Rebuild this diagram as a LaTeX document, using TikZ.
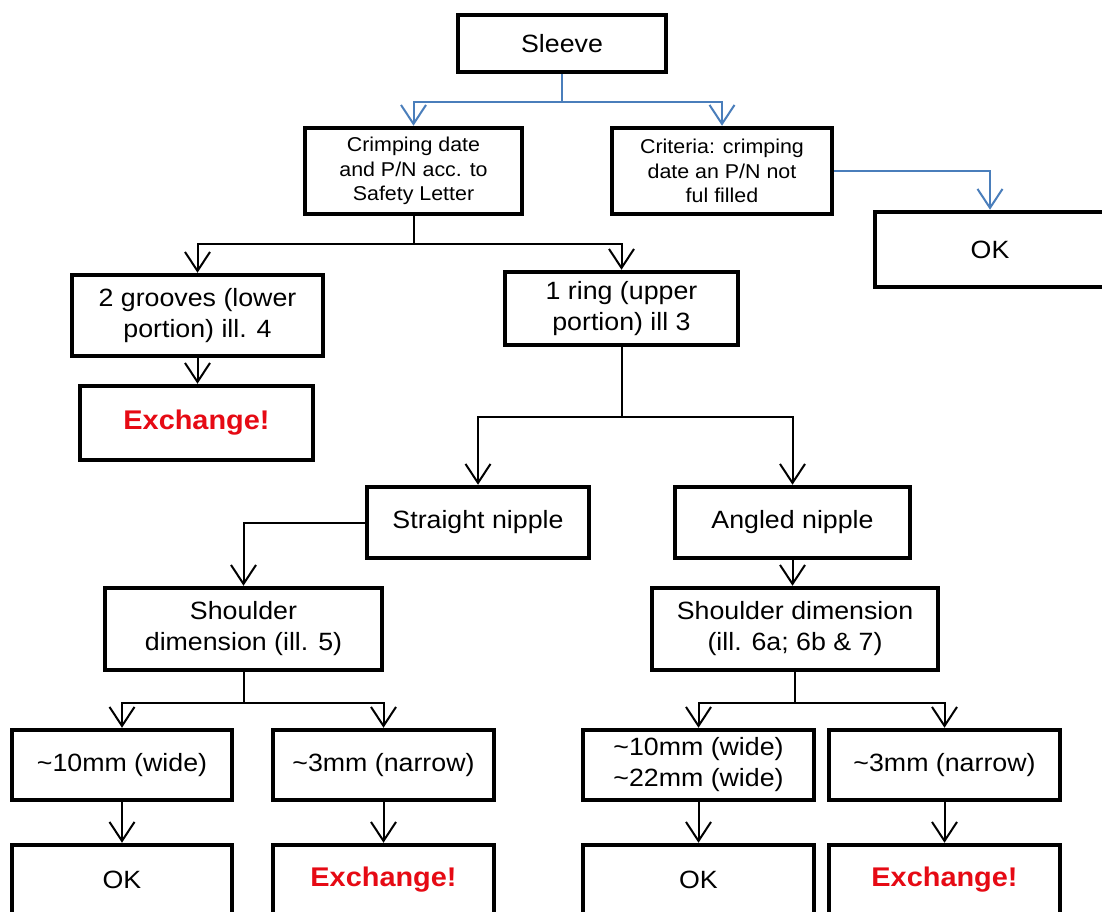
\documentclass[tikz,border=0pt]{standalone}
\usepackage{fontspec}
\setmainfont[FakeStretch=1.07]{Liberation Sans}
\usetikzlibrary{arrows.meta}
\definecolor{conblue}{RGB}{74,126,187}
\definecolor{exred}{RGB}{230,10,20}
\tikzset{
  box/.style={draw=black, line width=4.5pt, rectangle, align=center, inner sep=2pt,
              font=\fontsize{25}{31}\selectfont},
  smallbox/.style={box, font=\fontsize{20}{24.5}\selectfont},
  conn/.style={draw=black, line width=2pt, -{Straight Barb[length=19pt,width=25pt,line width=2pt]}},
  bconn/.style={conn, draw=conblue, color=conblue},
  exch/.style={text=exred, font=\fontsize{27}{31}\selectfont\bfseries}
}
\begin{document}
\begin{tikzpicture}[x=1pt,y=-1pt]
\useasboundingbox (0,0) rectangle (1102,911);
\clip (0,0) rectangle (1102,911);
\fill[white] (0,0) rectangle (1102,911);
% nodes
\node[box, minimum width=208pt, minimum height=57pt] (sleeve) at (562,43.5) {Sleeve};
\node[smallbox, minimum width=217pt, minimum height=86pt] (crimp) at (413.5,171) {Crimping date\\and P/N acc. to\\Safety Letter};
\node[smallbox, minimum width=220pt, minimum height=86pt] (crit) at (722,171) {Criteria: crimping\\date an P/N not\\ful filled};
\node[box, minimum width=230pt, minimum height=75pt] (ok1) at (990,249.5) {OK};
\node[box, minimum width=251pt, minimum height=81pt] (grooves) at (197.5,315.5) {2 grooves (lower\\portion) ill. 4};
\node[box, exch, minimum width=233pt, minimum height=74pt] (ex1) at (196.5,423) {Exchange!};
\node[box, minimum width=233pt, minimum height=73pt] (ring) at (621.5,308.5) {1 ring (upper\\portion) ill 3};
\node[box, minimum width=222pt, minimum height=71pt] (straight) at (478,522.5) {Straight nipple};
\node[box, minimum width=235pt, minimum height=71pt] (angled) at (792.5,522.5) {Angled nipple};
\node[box, minimum width=277pt, minimum height=82pt] (sh1) at (243.5,629) {Shoulder\\dimension (ill. 5)};
\node[box, minimum width=286pt, minimum height=82pt] (sh2) at (795,629) {Shoulder dimension\\(ill. 6a; 6b \& 7)};
\node[box, minimum width=220pt, minimum height=70pt] (w1) at (122,765) {\textasciitilde10mm (wide)};
\node[box, minimum width=221pt, minimum height=70pt] (n1) at (383.5,765) {\textasciitilde3mm (narrow)};
\node[box, minimum width=231pt, minimum height=70pt] (w2) at (698.5,765) {\textasciitilde10mm (wide)\\\textasciitilde22mm (wide)};
\node[box, minimum width=231pt, minimum height=70pt] (n2) at (944.5,765) {\textasciitilde3mm (narrow)};
\node[box, minimum width=220pt, minimum height=70pt] (ok2) at (122,880) {OK};
\node[box, exch, minimum width=221pt, minimum height=70pt] (ex2) at (383.5,880) {Exchange!};
\node[box, minimum width=231pt, minimum height=70pt] (ok3) at (698.5,880) {OK};
\node[box, exch, minimum width=231pt, minimum height=70pt] (ex3) at (944.5,880) {Exchange!};
% blue connectors
\draw[bconn] (sleeve.south) -- ++(0,28) -| (crimp.north);
\draw[bconn] (sleeve.south) -- ++(0,28) -| (crit.north);
\draw[bconn] (crit.east) -| (ok1.north);
% black connectors
\draw[conn] (crimp.south) -- ++(0,28) -| (grooves.north);
\draw[conn] (crimp.south) -- ++(0,28) -| (ring.north);
\draw[conn] (grooves.south) -- (grooves.south |- ex1.north);
\draw[conn] (ring.south) -- ++(0,70) -| (straight.north);
\draw[conn] (ring.south) -- ++(0,70) -| (angled.north);
\draw[conn] (straight.west) -| (sh1.north);
\draw[conn] (angled.south) -- (angled.south |- sh2.north);
\draw[conn] (sh1.south) -- ++(0,31) -| (w1.north);
\draw[conn] (sh1.south) -- ++(0,31) -| (n1.north);
\draw[conn] (sh2.south) -- ++(0,31) -| (w2.north);
\draw[conn] (sh2.south) -- ++(0,31) -| (n2.north);
\draw[conn] (w1.south) -- (ok2.north);
\draw[conn] (n1.south) -- (ex2.north);
\draw[conn] (w2.south) -- (ok3.north);
\draw[conn] (n2.south) -- (ex3.north);
\end{tikzpicture}
\end{document}
